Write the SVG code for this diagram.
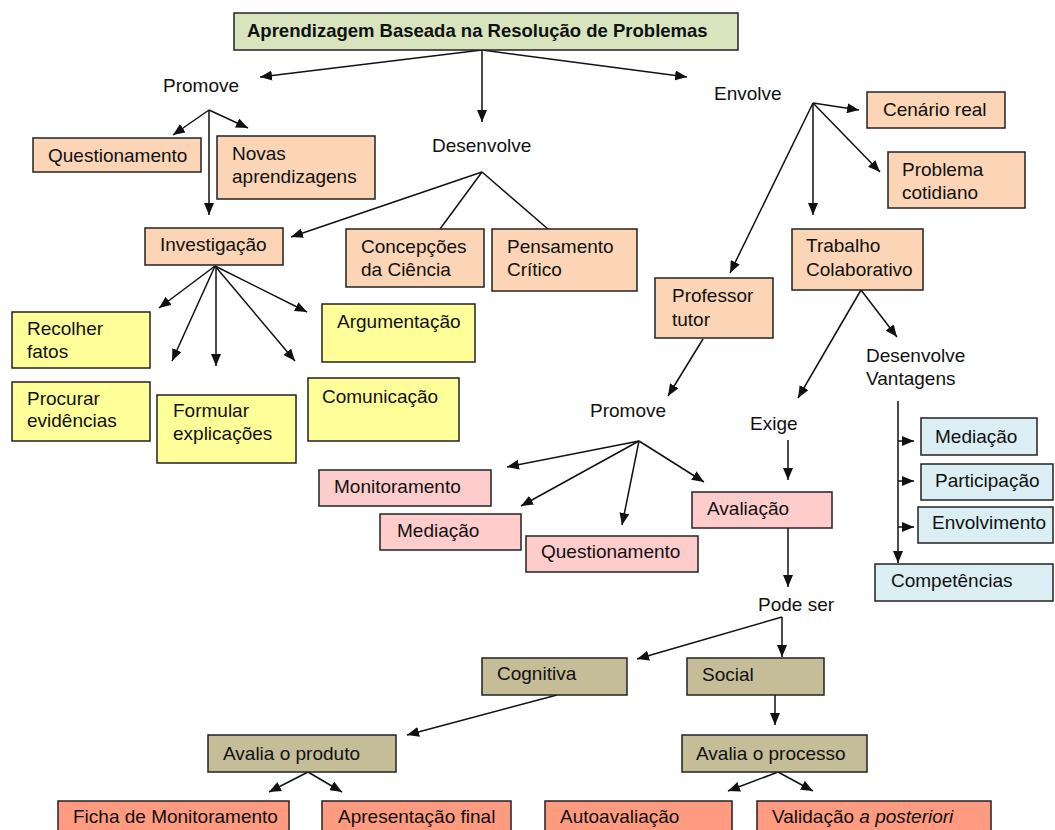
<svg xmlns="http://www.w3.org/2000/svg" width="1055" height="830" viewBox="0 0 1055 830">
<style>
text{font-family:"Liberation Sans",Arial,sans-serif;font-size:19px;fill:#111}
.t{font-weight:bold;font-size:18.5px}
rect{stroke:#222;stroke-width:1.5}
.g{fill:#d7e4bd}.p{fill:#fbd5b5}.y{fill:#ffff99}.k{fill:#ffcccc}.b{fill:#dbeef3}.h{fill:#c4bd97}.s{fill:#ff9b80}
#conn path{stroke:#111;stroke-width:1.5;fill:none}
#conn .a{marker-end:url(#ah)}
</style>
<defs>
<marker id="ah" markerUnits="userSpaceOnUse" markerWidth="12" markerHeight="10" viewBox="0 0 12 10" refX="12" refY="5" orient="auto">
<path d="M0,0 L12,5 L0,10 z" fill="#111"/>
</marker>
</defs>
<g id="conn">
<path class="a" d="M482,50 L260,77"/>
<path class="a" d="M482,50 L482,122"/>
<path class="a" d="M482,50 L687,77"/>
<path class="a" d="M209,110 L173,135"/>
<path class="a" d="M209,110 L248,128"/>
<path class="a" d="M209,110 L209,215"/>
<path class="a" d="M482,172 L291,237"/>
<path d="M482,172 L440,229"/>
<path d="M482,172 L548,229"/>
<path class="a" d="M215,266 L159,308"/>
<path class="a" d="M215,266 L172,361"/>
<path class="a" d="M216,266 L216,366"/>
<path class="a" d="M215,266 L295,361"/>
<path class="a" d="M215,266 L307,312"/>
<path class="a" d="M813,103 L859,110"/>
<path class="a" d="M813,103 L880,172"/>
<path class="a" d="M813,103 L813,215"/>
<path class="a" d="M813,103 L730,273"/>
<path class="a" d="M703,339 L668,396"/>
<path class="a" d="M639,441 L507,467"/>
<path class="a" d="M639,441 L521,506"/>
<path class="a" d="M639,441 L622,525"/>
<path class="a" d="M639,441 L704,482"/>
<path class="a" d="M861,290 L798,398"/>
<path class="a" d="M861,290 L897,337"/>
<path class="a" d="M788,440 L788,480"/>
<path class="a" d="M788,528 L788,587"/>
<path class="a" d="M898,401 L898,563"/>
<path class="a" d="M898,441 L914,441"/>
<path class="a" d="M898,481 L914,481"/>
<path class="a" d="M898,527 L914,527"/>
<path class="a" d="M782,617 L637,659"/>
<path class="a" d="M782,617 L782,657"/>
<path class="a" d="M775,695 L775,725"/>
<path class="a" d="M557,695 L407,735"/>
<path class="a" d="M308,772 L269,792"/>
<path class="a" d="M308,772 L342,792"/>
<path class="a" d="M778,772 L728,791"/>
<path class="a" d="M778,772 L813,791"/>
</g>
<g id="title"><rect class="g" x="234" y="13" width="504" height="37"/><text class="t" x="247" y="37">Aprendizagem Baseada na Resolução de Problemas</text></g>
<g id="lbl-promove"><text x="163" y="92">Promove</text></g>
<g id="lbl-desenvolve"><text x="432" y="152">Desenvolve</text></g>
<g id="lbl-envolve"><text x="714" y="100">Envolve</text></g>
<g id="lbl-promove2"><text x="590" y="417">Promove</text></g>
<g id="lbl-exige"><text x="750" y="430">Exige</text></g>
<g id="lbl-vantagens"><text x="866" y="362">Desenvolve</text><text x="866" y="385">Vantagens</text></g>
<g id="lbl-podeser"><text x="758" y="611">Pode ser</text></g>
<g id="n-quest1"><rect class="p" x="33" y="138" width="168" height="34"/><text x="48" y="162">Questionamento</text></g>
<g id="n-novas"><rect class="p" x="217" y="136" width="158" height="63"/><text x="232" y="160">Novas</text><text x="232" y="183">aprendizagens</text></g>
<g id="n-invest"><rect class="p" x="145" y="228" width="138" height="37"/><text x="160" y="251">Investigação</text></g>
<g id="n-concep"><rect class="p" x="346" y="229" width="138" height="58"/><text x="361" y="253">Concepções</text><text x="361" y="276">da Ciência</text></g>
<g id="n-pens"><rect class="p" x="492" y="229" width="145" height="62"/><text x="507" y="253">Pensamento</text><text x="507" y="276">Crítico</text></g>
<g id="n-cenario"><rect class="p" x="867" y="92" width="138" height="36"/><text x="883" y="116">Cenário real</text></g>
<g id="n-problema"><rect class="p" x="888" y="152" width="137" height="56"/><text x="902" y="176">Problema</text><text x="902" y="199">cotidiano</text></g>
<g id="n-trabalho"><rect class="p" x="792" y="229" width="131" height="61"/><text x="806" y="252">Trabalho</text><text x="806" y="276">Colaborativo</text></g>
<g id="n-prof"><rect class="p" x="655" y="278" width="118" height="60"/><text x="672" y="302">Professor</text><text x="672" y="326">tutor</text></g>
<g id="n-recolher"><rect class="y" x="12" y="312" width="138" height="56"/><text x="27" y="335">Recolher</text><text x="27" y="358">fatos</text></g>
<g id="n-procurar"><rect class="y" x="12" y="382" width="138" height="59"/><text x="27" y="405">Procurar</text><text x="27" y="427">evidências</text></g>
<g id="n-formular"><rect class="y" x="157" y="395" width="139" height="68"/><text x="173" y="417">Formular</text><text x="173" y="440">explicações</text></g>
<g id="n-argum"><rect class="y" x="322" y="304" width="153" height="58"/><text x="337" y="328">Argumentação</text></g>
<g id="n-comun"><rect class="y" x="308" y="378" width="151" height="63"/><text x="322" y="403">Comunicação</text></g>
<g id="n-monit"><rect class="k" x="319" y="470" width="172" height="36"/><text x="334" y="493">Monitoramento</text></g>
<g id="n-med1"><rect class="k" x="380" y="514" width="141" height="36"/><text x="397" y="537">Mediação</text></g>
<g id="n-quest2"><rect class="k" x="526" y="536" width="172" height="36"/><text x="541" y="558">Questionamento</text></g>
<g id="n-aval"><rect class="k" x="692" y="492" width="140" height="36"/><text x="707" y="515">Avaliação</text></g>
<g id="n-med2"><rect class="b" x="921" y="418" width="116" height="37"/><text x="935" y="443">Mediação</text></g>
<g id="n-partic"><rect class="b" x="921" y="464" width="132" height="36"/><text x="935" y="487">Participação</text></g>
<g id="n-envolv"><rect class="b" x="918" y="507" width="135" height="36"/><text x="932" y="529">Envolvimento</text></g>
<g id="n-compet"><rect class="b" x="875" y="564" width="178" height="37"/><text x="891" y="587">Competências</text></g>
<g id="n-cogn"><rect class="h" x="482" y="658" width="145" height="37"/><text x="497" y="680">Cognitiva</text></g>
<g id="n-social"><rect class="h" x="687" y="658" width="137" height="37"/><text x="702" y="681">Social</text></g>
<g id="n-produto"><rect class="h" x="208" y="735" width="188" height="37"/><text x="223" y="760">Avalia o produto</text></g>
<g id="n-processo"><rect class="h" x="682" y="735" width="185" height="37"/><text x="696" y="760">Avalia o processo</text></g>
<g id="n-ficha"><rect class="s" x="58" y="801" width="231" height="40"/><text x="73" y="823">Ficha de Monitoramento</text></g>
<g id="n-apres"><rect class="s" x="322" y="801" width="189" height="40"/><text x="338" y="823">Apresentação final</text></g>
<g id="n-auto"><rect class="s" x="545" y="801" width="187" height="40"/><text x="560" y="823">Autoavaliação</text></g>
<g id="n-valid"><rect class="s" x="757" y="801" width="234" height="40"/><text x="772" y="823">Validação <tspan font-style="italic">a posteriori</tspan></text></g>
</svg>
